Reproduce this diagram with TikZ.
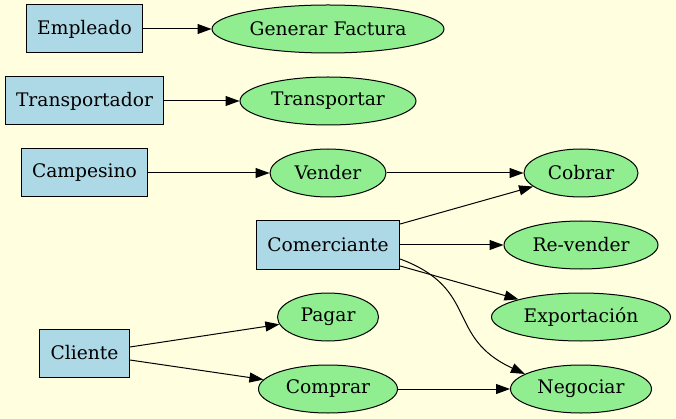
\documentclass[tikz,border=0pt]{standalone}
\usepackage{fontspec}
\setmainfont{DejaVu Serif}
\usetikzlibrary{arrows.meta,shapes.geometric}

\definecolor{fondo}{HTML}{FFFFE0}
\definecolor{azul}{HTML}{ADD8E6}
\definecolor{verde}{HTML}{90EE90}

\begin{document}
\begin{tikzpicture}[x=1pt,y=-1pt,
  actor/.style={draw=black,fill=azul,rectangle,line width=1pt,minimum height=48pt,inner xsep=11pt,font=\fontsize{18.67}{22}\selectfont},
  caso/.style={draw=black,fill=verde,ellipse,line width=1pt,minimum height=48pt,minimum width=#1,inner xsep=0pt,inner ysep=2pt,font=\fontsize{18.67}{22}\selectfont},
  flecha/.style={draw=black,line width=1pt,-{Triangle[length=14pt,width=10pt]}}]
  \fill [fondo] (0,0) rectangle (676,419);
  \useasboundingbox (0,0) rectangle (676,419);
  % actores
  \node [actor] (empleado) at (84.5,29) {Empleado};
  \node [actor] (transportador) at (84.5,101) {Transportador};
  \node [actor] (campesino) at (84.5,173) {Campesino};
  \node [actor] (comerciante) at (328,245) {Comerciante};
  \node [actor] (cliente) at (84.5,353) {Cliente};
  % casos de uso
  \node [caso=232pt] (factura) at (328,29) {Generar Factura};
  \node [caso=176pt] (transportar) at (328,101) {Transportar};
  \node [caso=116pt] (vender) at (328,173) {Vender};
  \node [caso=101pt] (pagar) at (328,317) {Pagar};
  \node [caso=139pt] (comprar) at (328,389) {Comprar};
  \node [caso=114pt] (cobrar) at (581,173) {Cobrar};
  \node [caso=154pt] (revender) at (581,245) {Re-vender};
  \node [caso=179pt] (exportacion) at (581,317) {Exportación};
  \node [caso=141pt] (negociar) at (581,389) {Negociar};
  % relaciones
  \draw [flecha] (empleado) -- (factura);
  \draw [flecha] (transportador) -- (transportar);
  \draw [flecha] (campesino) -- (vender);
  \draw [flecha] (vender) -- (cobrar);
  \draw [flecha] ([yshift=21pt]comerciante.east) -- (cobrar);
  \draw [flecha] (comerciante) -- (revender);
  \draw [flecha] ([yshift=-21pt]comerciante.east) -- (exportacion);
  \draw [flecha] ([yshift=-14pt]comerciante.east) .. controls +(80,30) and +(-80,-37) .. (negociar.165);
  \draw [flecha] ([yshift=6pt]cliente.east) -- (pagar);
  \draw [flecha] ([yshift=-7pt]cliente.east) -- (comprar);
  \draw [flecha] (comprar) -- (negociar);
\end{tikzpicture}
\end{document}
